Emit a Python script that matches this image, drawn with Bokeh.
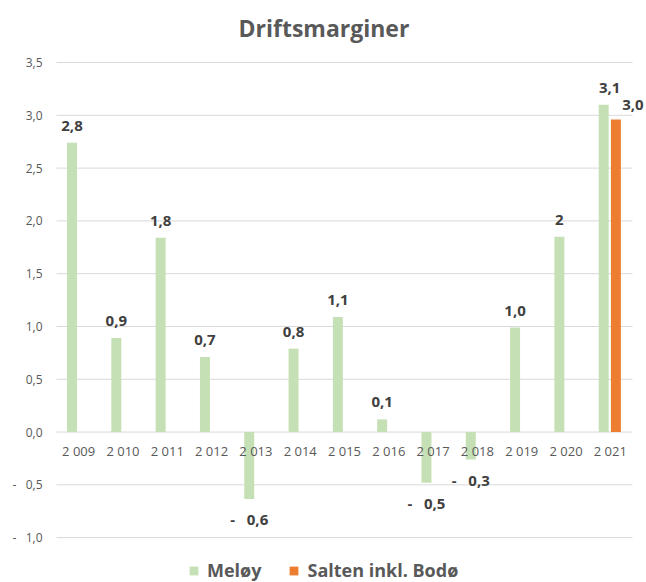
from bokeh.plotting import figure
from bokeh.models import (ColumnDataSource, Range1d, FactorRange, FixedTicker, Legend,
                          LegendItem)
from bokeh.transform import dodge
from bokeh.core.properties import value
from bokeh.embed import file_html
from bokeh.resources import INLINE

# ---- data ----
years = ["2 009", "2 010", "2 011", "2 012", "2 013", "2 014", "2 015",
         "2 016", "2 017", "2 018", "2 019", "2 020", "2 021"]
meloy = [2.74, 0.89, 1.84, 0.71, -0.635, 0.79, 1.09, 0.12, -0.48, -0.26, 0.99, 1.85, 3.10]
meloy_labels = ["2,8", "0,9", "1,8", "0,7", "-\u00a0\u00a0\u00a00,6", "0,8", "1,1",
                "0,1", "-\u00a0\u00a0\u00a00,5", "-\u00a0\u00a0\u00a00,3", "1,0", "2", "3,1"]
salten_years = ["2 021"]
salten = [2.96]
salten_labels = ["3,0"]
y_ticks = [-1.0, -0.5, 0.0, 0.5, 1.0, 1.5, 2.0, 2.5, 3.0, 3.5]
y_tick_labels = ["-\u00a0\u00a0\u00a01,0", "-\u00a0\u00a0\u00a00,5", "0,0", "0,5", "1,0",
                 "1,5", "2,0", "2,5", "3,0", "3,5"]

FONT = "Open Sans"
GREEN = "#C5E0B4"
ORANGE = "#ED7D31"
GREY = "#595959"
DARK = "#404040"
GRID = "#D9D9D9"

# label offsets (style)
m_yoff = [-17 if v >= 0 else 20 for v in meloy]
m_xoff = [0] * len(meloy)
m_xoff[-1] = 6

msrc = ColumnDataSource(dict(year=years, val=meloy, lab=meloy_labels, yoff=m_yoff, xoff=m_xoff))
ssrc = ColumnDataSource(dict(year=salten_years, val=salten, lab=salten_labels))
xsrc = ColumnDataSource(dict(year=years, zero=[0] * len(years)))
gsrc = ColumnDataSource(dict(first=[years[0]] * len(y_ticks), last=[years[-1]] * len(y_ticks),
                             y=y_ticks))

x_range = FactorRange(factors=years, range_padding=0.316, range_padding_units="absolute")
p = figure(x_range=x_range, y_range=Range1d(-1.425, 3.595), width=646, height=582,
           output_backend="svg", toolbar_location=None, x_axis_location=None,
           min_border_left=42, min_border_right=0, min_border_top=52, min_border_bottom=0)

p.title.text = "Driftsmarginer"
p.title.text_font = FONT
p.title.text_font_size = "23px"
p.title.text_font_style = "bold"
p.title.text_color = GREY
p.title.align = "left"
p.title.offset = 196
p.title.standoff = 18

# horizontal gridlines spanning the category area
p.segment(x0=dodge("first", -0.5, range=x_range), x1=dodge("last", 0.5, range=x_range),
          y0="y", y1="y", source=gsrc, line_color=GRID, line_width=1)

r1 = p.vbar(x=dodge("year", -0.15, range=x_range), top="val", bottom=0, width=0.225,
            source=msrc, fill_color=GREEN, line_color=None)
r2 = p.vbar(x=dodge("year", 0.125, range=x_range), top="val", bottom=0, width=0.225,
            source=ssrc, fill_color=ORANGE, line_color=None)

p.text(x=dodge("year", -0.15, range=x_range), y="val", text="lab", source=msrc,
       x_offset="xoff", y_offset="yoff", text_align="center", text_baseline="middle",
       text_font=value(FONT), text_font_size="15px", text_font_style="bold", text_color=DARK)
p.text(x=dodge("year", 0.125, range=x_range), y="val", text="lab", source=ssrc,
       x_offset=17, y_offset=-15, text_align="center", text_baseline="middle",
       text_font=value(FONT), text_font_size="15px", text_font_style="bold", text_color=DARK)

# category labels under the zero line
p.text(x="year", y="zero", text="year", source=xsrc, y_offset=19,
       text_align="center", text_baseline="middle",
       text_font=value(FONT), text_font_size="13px", text_color=GREY)

p.xgrid.grid_line_color = None
p.ygrid.grid_line_color = None
p.outline_line_color = None

# y axis
p.yaxis.ticker = FixedTicker(ticks=y_ticks)
p.yaxis.major_label_overrides = {t: l for t, l in zip(y_ticks, y_tick_labels)}
p.yaxis.axis_line_color = None
p.yaxis.major_tick_line_color = None
p.yaxis.minor_tick_line_color = None
p.yaxis.major_tick_in = 0
p.yaxis.major_tick_out = 0
p.yaxis.major_label_standoff = 0
p.yaxis.major_label_text_font = FONT
p.yaxis.major_label_text_font_size = "12px"
p.yaxis.major_label_text_color = GREY

legend = Legend(items=[LegendItem(label="Meløy", renderers=[r1]),
                       LegendItem(label="Salten inkl. Bodø", renderers=[r2])],
                location=(146, 0), orientation="horizontal")
legend.label_text_font = FONT
legend.label_text_font_size = "18px"
legend.label_text_font_style = "bold"
legend.label_text_color = GREY
legend.glyph_width = 11
legend.glyph_height = 11
legend.label_standoff = 8
legend.spacing = 27
legend.padding = 0
legend.margin = 0
legend.border_line_color = None
legend.background_fill_alpha = 0
p.add_layout(legend, "center")

open("out.html", "w").write(file_html(p, INLINE))
